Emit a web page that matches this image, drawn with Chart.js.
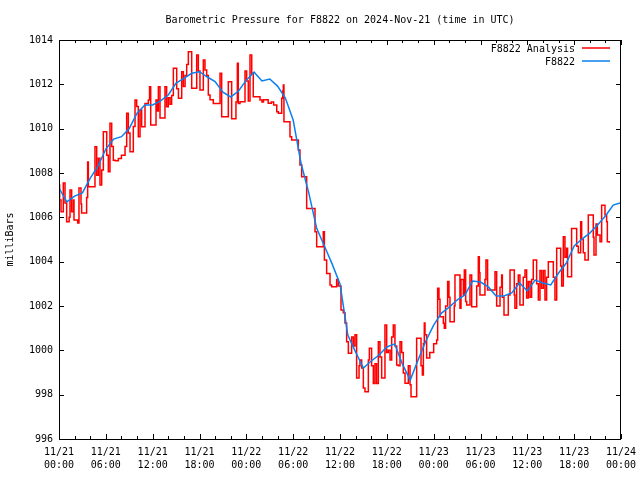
<!DOCTYPE html>
<html>
<head>
<meta charset="utf-8">
<script src="https://cdn.jsdelivr.net/npm/chart.js@4"></script>
<style>
  body { margin: 0; background: #fff; }
</style>
</head>
<body>
<canvas id="pressure" width="640" height="480"></canvas>
<script>
// x axis is hours since 11/21 00:00 UTC
var chartTitle = 'Barometric Pressure for F8822 on 2024-Nov-21 (time in UTC)';
var xTickLabels = [
  ['11/21', '00:00'], ['11/21', '06:00'], ['11/21', '12:00'], ['11/21', '18:00'],
  ['11/22', '00:00'], ['11/22', '06:00'], ['11/22', '12:00'], ['11/22', '18:00'],
  ['11/23', '00:00'], ['11/23', '06:00'], ['11/23', '12:00'], ['11/23', '18:00'],
  ['11/24', '00:00']
];
var yTickValues = [996, 998, 1000, 1002, 1004, 1006, 1008, 1010, 1012, 1014];

// F8822 Analysis (red, steps)
var redHours = [
  0.0, 0.08, 0.26, 0.55, 0.77, 0.98, 1.3, 1.41, 1.62, 1.84, 1.92, 2.39, 2.56, 2.82, 2.9,
  3.54, 3.67, 3.76, 4.61, 4.83, 5.04, 5.25, 5.47, 5.68, 6.11, 6.32, 6.53, 6.75, 6.96,
  7.2, 7.6, 8.0, 8.46, 8.67, 8.88, 9.1, 9.52, 9.74, 9.95, 10.16, 10.38, 10.59, 11.02,
  11.44, 11.6, 11.75, 12.43, 12.6, 12.73, 12.94, 13.58, 13.79, 14.0, 14.22, 14.43, 14.65,
  15.08, 15.3, 15.72, 15.93, 16.15, 16.36, 16.57, 17.0, 17.64, 17.85, 18.06, 18.49, 18.7,
  18.92, 19.13, 19.35, 19.77, 20.63, 20.84, 21.69, 22.12, 22.67, 22.85, 22.97, 23.19,
  23.83, 24.04, 24.25, 24.47, 24.69, 24.89, 25.75, 26.0, 26.2, 26.8, 27.2, 27.5, 27.9,
  28.1, 28.53, 28.66, 28.74, 28.82, 29.59, 29.81, 30.66, 30.87, 31.09, 31.73, 32.8, 33.01,
  33.86, 34.0, 34.29, 34.72, 34.93, 35.57, 35.78, 36.13, 36.42, 36.64, 36.85, 37.07,
  37.49, 37.71, 37.92, 38.13, 38.44, 38.56, 38.78, 38.99, 39.2, 39.63, 39.76, 40.05,
  40.27, 40.48, 40.69, 40.91, 41.12, 41.34, 41.76, 41.98, 42.19, 42.41, 42.62, 42.83,
  43.04, 43.26, 43.47, 43.69, 43.9, 44.11, 44.33, 44.75, 44.97, 45.1, 45.82, 46.38,
  46.55, 46.68, 46.8, 46.89, 47.1, 47.5, 48.0, 48.38, 48.51, 48.68, 48.81, 49.24, 49.36,
  49.53, 49.79, 49.96, 50.09, 50.64, 50.73, 51.37, 51.5, 51.8, 51.93, 52.1, 52.23, 52.65,
  52.87, 53.51, 53.72, 53.85, 53.93, 54.57, 54.7, 54.91, 55.86, 56.07, 56.5, 56.71, 56.8,
  57.01, 57.56, 57.78, 58.33, 58.41, 58.63, 58.84, 59.05, 59.48, 59.7, 59.91, 60.12,
  60.34, 60.55, 60.76, 61.19, 61.41, 61.62, 61.83, 62.05, 62.26, 62.47, 62.69, 63.33,
  63.54, 63.76, 64.27, 64.4, 64.61, 64.82, 65.03, 65.16, 65.67, 66.32, 66.53, 66.83,
  66.96, 67.17, 67.38, 67.81, 68.45, 68.54, 68.8, 68.97, 69.31, 69.52, 69.95, 70.16,
  70.25, 70.5
];
var redValues = [
  1007.46, 1006.78, 1006.25, 1007.55, 1006.65, 1005.8, 1006.0, 1007.23, 1006.25, 1006.78, 1005.88, 1005.74, 1007.32, 1006.6, 1006.19,
  1006.9, 1008.5, 1007.38, 1009.18, 1007.9, 1008.67, 1007.46, 1008.13, 1009.86, 1008.8, 1008.06, 1010.24, 1009.2, 1008.58,
  1008.55, 1008.65, 1008.8, 1009.2, 1010.7, 1009.8, 1008.96, 1010.1, 1011.29, 1011.0, 1009.64, 1010.84, 1010.09, 1011.14,
  1011.29, 1011.89, 1010.16, 1011.29, 1010.8, 1011.89, 1010.48, 1011.89, 1010.99, 1011.4, 1011.1, 1011.5, 1012.72,
  1011.8, 1011.37, 1012.57, 1011.9, 1012.4, 1012.9, 1013.47, 1011.82, 1013.32, 1012.6, 1011.74, 1013.1, 1012.65,
  1012.4, 1011.52, 1011.3, 1011.14, 1012.5, 1010.54, 1012.12, 1010.45, 1011.2, 1012.95, 1011.14, 1011.21,
  1012.6, 1012.15, 1011.25, 1013.32, 1012.5, 1011.44, 1011.29, 1011.2, 1011.3, 1011.15, 1011.2, 1011.07, 1010.76,
  1010.69, 1011.37, 1011.7, 1011.97, 1010.31, 1009.64, 1009.49, 1009.04, 1008.36, 1007.83, 1006.4, 1005.35, 1004.67,
  1005.35, 1004.07, 1003.47, 1002.95, 1002.87, 1003.2, 1002.9, 1001.82, 1001.7, 1001.23, 1000.39, 999.87,
  1000.6, 1000.2, 1000.7, 998.75, 999.3, 999.56, 999.2, 998.3, 998.13, 999.56, 1000.09, 999.3,
  998.5, 999.4, 998.5, 1000.39, 999.7, 998.75, 1001.14, 999.9, 1000.0, 999.56, 1000.6, 1001.14,
  1000.2, 999.34, 999.3, 1000.39, 999.9, 998.98, 998.51, 999.3, 998.45, 997.91, 1000.55, 999.3,
  998.89, 1000.3, 1001.23, 1000.7, 999.65, 999.9, 1000.3, 1000.47, 1002.8, 1002.3, 1001.52, 1001.22, 1001.0,
  1002.0, 1003.1, 1002.4, 1001.29, 1002.0, 1003.4, 1001.9, 1003.2, 1002.5, 1003.62, 1002.2, 1002.04, 1003.4,
  1001.97, 1002.9, 1004.22, 1003.5, 1002.5, 1003.2, 1004.07, 1002.72, 1003.55, 1002.0, 1002.85, 1003.4, 1002.4,
  1001.59, 1002.5, 1003.62, 1002.5, 1001.9, 1003.0, 1003.4, 1002.04, 1003.3, 1003.62, 1002.36, 1003.1,
  1002.4, 1003.2, 1004.07, 1003.0, 1002.27, 1003.6, 1002.8, 1003.6, 1002.27, 1003.3, 1004.0, 1003.3,
  1002.27, 1004.6, 1003.8, 1002.9, 1005.12, 1004.2, 1004.6, 1003.32, 1005.5, 1004.7, 1004.4, 1005.8,
  1005.0, 1004.4, 1004.07, 1006.1, 1005.1, 1004.3, 1005.7, 1005.2, 1004.9, 1006.55, 1006.1, 1005.8,
  1004.9, 1004.85
];

// F8822 (blue), hourly
var blueHours = [
  0, 1, 2, 3, 4, 5, 6, 7, 8, 9, 10, 11, 12, 13, 14, 15, 16, 17, 18, 19, 20, 21, 22, 23, 24,
  25, 26, 27, 28, 29, 30, 31, 32, 33, 34, 35, 36, 37, 38, 39, 40, 41, 42, 43, 44, 45, 46, 47, 48,
  49, 50, 51, 52, 53, 54, 55, 56, 57, 58, 59, 60, 61, 62, 63, 64, 65, 66, 67, 68, 69, 70, 71, 72
];
var blueValues = [
  1007.32, 1006.70, 1006.96, 1007.10, 1007.77, 1008.31, 1009.08, 1009.53, 1009.64, 1010.01,
  1010.70, 1011.07, 1011.07, 1011.25, 1011.52, 1012.06, 1012.27, 1012.50, 1012.57, 1012.33,
  1012.12, 1011.65, 1011.43, 1011.70, 1012.19, 1012.55, 1012.15, 1012.24, 1011.92, 1011.38,
  1010.39, 1008.45, 1007.10, 1005.52, 1004.71, 1003.89, 1002.99, 1000.69, 999.92, 999.20,
  999.52, 999.79, 1000.15, 1000.29, 999.38, 998.66, 999.56, 1000.42, 1001.14, 1001.68,
  1001.95, 1002.27, 1002.50, 1003.13, 1003.08, 1002.86, 1002.45, 1002.45, 1002.59, 1003.04,
  1002.68, 1003.17, 1003.04, 1002.95, 1003.49, 1003.94, 1004.71, 1005.02, 1005.29, 1005.65,
  1006.06, 1006.55, 1006.66
];

var monoFont = 'DejaVu Sans Mono';

function pairs(xs, ys) {
  return xs.map(function (x, i) { return { x: x, y: ys[i] }; });
}

// gnuplot-like title, frame, inward ticks and key
var framePlugin = {
  id: 'frame',
  afterDraw: function (chart) {
    var ctx = chart.ctx;
    var a = chart.chartArea;
    var xs = chart.scales.x;
    var ys = chart.scales.y;
    ctx.save();
    ctx.strokeStyle = '#000';
    ctx.lineWidth = 1;
    ctx.strokeRect(a.left + 0.5, a.top + 0.5, a.right - a.left - 1, a.bottom - a.top);
    ctx.beginPath();
    for (var h = 0; h <= 72; h += 2) {
      var px = Math.round(xs.getPixelForValue(h)) + 0.5;
      var len = h % 6 === 0 ? 5 : 3;
      ctx.moveTo(px, a.bottom); ctx.lineTo(px, a.bottom - len);
      ctx.moveTo(px, a.top); ctx.lineTo(px, a.top + len);
    }
    yTickValues.forEach(function (v) {
      var py = Math.round(ys.getPixelForValue(v)) + 0.5;
      ctx.moveTo(a.left, py); ctx.lineTo(a.left + 5, py);
      ctx.moveTo(a.right, py); ctx.lineTo(a.right - 5, py);
    });
    ctx.stroke();

    ctx.font = '10px ' + monoFont;
    ctx.fillStyle = '#000';
    ctx.textBaseline = 'middle';
    ctx.textAlign = 'center';
    ctx.fillText(chartTitle, (a.left + a.right) / 2, 20);

    ctx.textAlign = 'right';
    chart.data.datasets.forEach(function (ds, i) {
      var y = 49 + i * 13;
      ctx.fillText(ds.label, 575, y);
      ctx.strokeStyle = ds.borderColor;
      ctx.lineWidth = 1.5;
      ctx.beginPath();
      ctx.moveTo(582, y - 1);
      ctx.lineTo(610, y - 1);
      ctx.stroke();
    });
    ctx.restore();
  }
};

var pressureChart = document.getElementById('pressure').getContext('2d');
var myChart = new Chart(pressureChart, {
  type: 'line',
  data: {
    datasets: [{
      label: 'F8822 Analysis',
      data: pairs(redHours, redValues),
      borderColor: '#ff0000',
      borderWidth: 1.5,
      pointRadius: 0,
      stepped: 'before',
      order: 1
    }, {
      label: 'F8822',
      data: pairs(blueHours, blueValues),
      borderColor: '#0a80f0',
      borderWidth: 1.5,
      pointRadius: 0,
      tension: 0,
      order: 0
    }]
  },
  options: {
    responsive: false,
    animation: false,
    devicePixelRatio: 1,
    layout: { padding: { left: 0, right: 19, top: 40, bottom: 0 } },
    plugins: {
      legend: { display: false },
      tooltip: { enabled: false },
      title: { display: false }
    },
    scales: {
      x: {
        type: 'linear',
        min: 0,
        max: 72,
        grid: { display: false, drawTicks: false },
        border: { display: false },
        ticks: {
          stepSize: 6,
          autoSkip: false,
          maxRotation: 0,
          padding: 7,
          color: '#000',
          font: { family: monoFont, size: 10, lineHeight: 1.3 },
          callback: function (v) { return xTickLabels[v / 6]; }
        },
        afterFit: function (s) {
          s.height = 41;
          s.paddingLeft = 0;
          s.paddingRight = 0;
        }
      },
      y: {
        min: 996,
        max: 1014,
        grid: { display: false, drawTicks: false },
        border: { display: false },
        ticks: {
          stepSize: 2,
          padding: 6,
          color: '#000',
          font: { family: monoFont, size: 10 },
          callback: function (v) { return String(v); }
        },
        title: {
          display: true,
          text: 'milliBars',
          color: '#000',
          font: { family: monoFont, size: 10 },
          padding: { top: 4, bottom: 0 }
        },
        afterFit: function (s) {
          s.width = 59;
          s.paddingTop = 0;
          s.paddingBottom = 0;
        }
      }
    }
  },
  plugins: [framePlugin]
});
</script>
</body>
</html>
